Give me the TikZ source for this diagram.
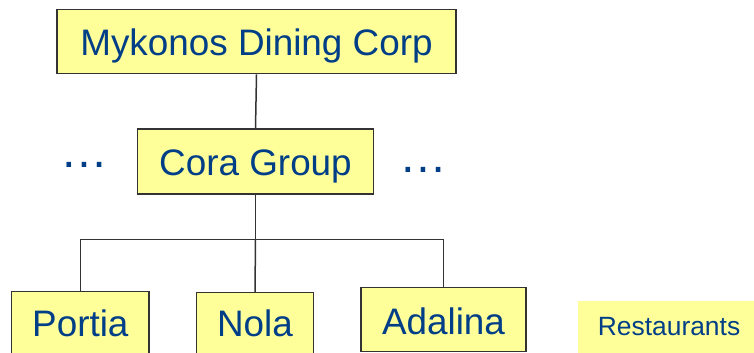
\documentclass[tikz,border=0pt]{standalone}
\usepackage{fontspec}
\setmainfont{Liberation Sans}
\definecolor{boxfill}{HTML}{FFFF99}
\definecolor{boxline}{HTML}{333333}
\definecolor{inkblue}{HTML}{003F87}
\begin{document}
\begin{tikzpicture}[x=1bp,y=-1bp,
  orgbox/.style={draw=boxline, line width=1.4bp, fill=boxfill, text=inkblue,
    inner sep=0pt, anchor=north, align=center,
    font=\fontsize{37}{40}\selectfont},
  legendbox/.style={fill=boxfill, text=inkblue, inner sep=0pt, anchor=north west,
    font=\fontsize{26.5}{28}\selectfont},
  dots/.style={text=inkblue, inner sep=0pt, anchor=base,
    font=\fontsize{48}{50}\selectfont},
  link/.style={draw=boxline, line width=1.5bp}]
\clip (0,0) rectangle (754,352);
\fill[white] (0,0) rectangle (754,352);

% corporate level
\node[orgbox, minimum width=399bp, text height=46bp, text depth=18bp]
  (corp) at (256.5,9) {Mykonos Dining Corp};

% group level
\node[orgbox, minimum width=235.6bp, text height=46.7bp, text depth=18.3bp]
  (group) at (255.5,128.3) {Cora Group};
\node[dots] (dl) at (84.5,167) {…};
\node[dots] (dr) at (423,172) {…};

% restaurants (boxes run off the bottom edge)
\node[orgbox, minimum width=137.3bp, text height=44.7bp, text depth=25bp]
  (portia) at (80.35,291) {Portia};
\node[orgbox, minimum width=116.6bp, text height=43.7bp, text depth=25bp]
  (nola) at (255,292) {Nola};
\node[orgbox, minimum width=165bp, text height=46.6bp, text depth=17.7bp]
  (adalina) at (443.5,286.7) {Adalina};

% legend
\node[legendbox, minimum width=182.3bp, text height=34bp, text depth=25bp]
  (legend) at (577.7,301) {Restaurants};

% connectors
\coordinate (bus) at (group.south |- 0,239.3);
\draw[link] (corp.south) -- (group.north);
\draw[link] (group.south) -- (bus);
\draw[link] (portia.north) |- (bus) -| (adalina.north);
\draw[link] (bus) -- (nola.north);
\end{tikzpicture}
\end{document}
